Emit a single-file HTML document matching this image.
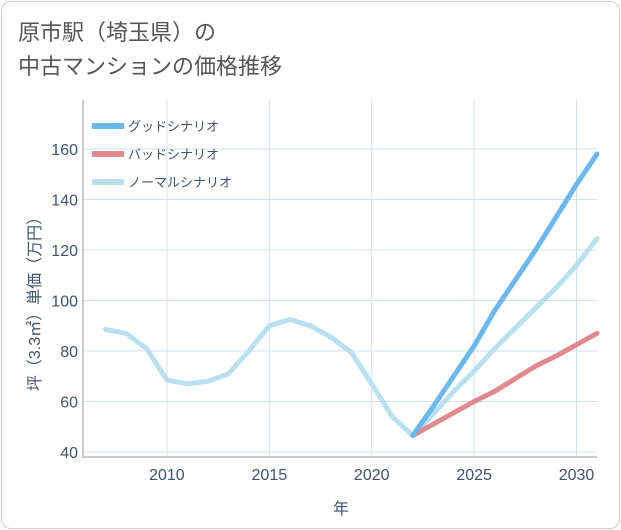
<!DOCTYPE html>
<html><head><meta charset="utf-8">
<style>
body{margin:0;background:#fff;}
.frame{position:absolute;left:1px;top:1px;width:617px;height:526px;border:1px solid #ccc;border-radius:10px;background:#fff;}
.title{position:absolute;left:18px;top:16px;font:22px "Liberation Sans","Noto Sans CJK JP",sans-serif;color:#555;line-height:34px;}
svg text{font-family:"Liberation Sans","Noto Sans CJK JP",sans-serif;}
</style></head><body>
<div class="frame"></div>
<div class="title">原市駅（埼玉県）の<br>中古マンションの価格推移</div>
<svg id="c" width="621" height="530" style="position:absolute;left:0;top:0"></svg>
<script>
const years=[2007,2008,2009,2010,2011,2012,2013,2014,2015,2016,2017,2018,2019,2020,2021,2022,2023,2024,2025,2026,2027,2028,2029,2030,2031];
const normal=[88.5,87,81,68.5,67,68,71,80,90,92.5,90,85.5,79.5,67,54,46.5,55,64,72,81,89,97,105,114,124.5];
const fcYears=[2022,2023,2024,2025,2026,2027,2028,2029,2030,2031];
const good=[46.5,58,70,82,96,108,120,133,146,158];
const bad=[46.5,51,55.5,60,64,69,74,78,82.5,87];
const xTicks=[2010,2015,2020,2025,2030];
const yTicks=[40,60,80,100,120,140,160];
const NS='http://www.w3.org/2000/svg';
const svg=document.getElementById('c');
const L=85,R=597,T=100,B=457;
const TXT='#3d5470';
const x=v=>L+(v-2006)/(2031-2006)*(R-L);
const y=v=>452-(v-40)*(303/120);
function el(t,a,p){const e=document.createElementNS(NS,t);for(const k in a)e.setAttribute(k,a[k]);(p||svg).appendChild(e);return e;}
for(const t of xTicks){
 const g=el('line',{x1:x(t),x2:x(t),y1:T,y2:B,stroke:'#cfe0ec','stroke-width':1});
 
 
 const tx=el('text',{x:x(t),y:480,'text-anchor':'middle','font-size':16,fill:TXT});tx.textContent=t;
 
 
}
for(const t of yTicks){
 const g=el('line',{x1:L-2,x2:R,y1:y(t),y2:y(t),stroke:'#cfe0ec','stroke-width':1});
 
 
 const tx=el('text',{x:78,y:y(t)+6,'text-anchor':'end','font-size':16,fill:TXT});tx.textContent=t;
 
 
}
const ax=el('path',{d:`M${L-2},${T}L${L-2},${B}L${R},${B}`,fill:'none',stroke:'#999','stroke-width':1});


const xt=el('text',{x:341,y:514,'text-anchor':'middle','font-size':16,fill:TXT});xt.textContent='年';


const yt=el('text',{x:0,y:0,'text-anchor':'middle','font-size':16,fill:TXT,transform:'translate(40,300) rotate(-90)'});yt.textContent='坪（3.3㎡）単価（万円）';


function line(xs,vs,col,name){
 const d=xs.map((v,i)=>(i?'L':'M')+x(v)+','+y(vs[i])).join('');
 const p=el('path',{d:d,fill:'none',stroke:col,'stroke-width':5,'stroke-linejoin':'round','stroke-linecap':'round'});
 
 
}
line(years,normal,'#b9e0f0','normal-scenario-line');
line(fcYears,bad,'#e08a90','bad-scenario-line');
line(fcYears,good,'#6bb8ee','good-scenario-line');
const leg=[['グッドシナリオ','#6bb8ee',126],['バッドシナリオ','#e08a90',154],['ノーマルシナリオ','#b9e0f0',182]];
for(const [t,c,yy] of leg){
 const r=el('rect',{x:92,y:yy-3,width:32,height:6,fill:c});
 
 
 const tx=el('text',{x:128,y:yy+5,'font-size':13,fill:TXT});tx.textContent=t;
 
 
}
</script>
</body></html>
